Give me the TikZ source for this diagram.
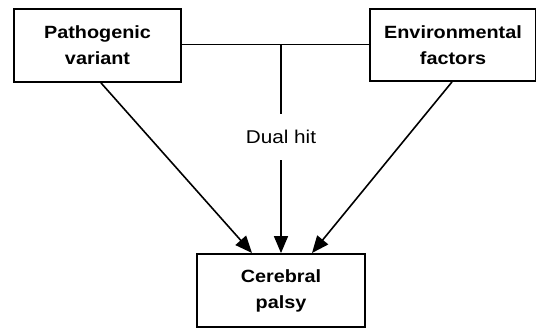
\documentclass[tikz,border=0pt]{standalone}
\usepackage{fontspec}
\setmainfont{Liberation Sans}[FakeStretch=1.12]
\usetikzlibrary{arrows.meta}
\begin{document}
\begin{tikzpicture}[x=1pt,y=-1pt,
  box/.style={draw,line width=1.8pt,align=center,font=\fontsize{17.7}{26}\selectfont\bfseries,inner sep=0pt},
  conn/.style={line width=1.6pt},
  arr/.style={conn,-{Triangle[length=17pt,width=14pt]}}]
\useasboundingbox (0,0) rectangle (536,329);
\fill[white] (0,0) rectangle (536,329);
\node[box,minimum width=167pt,minimum height=73pt] (pv) at (97.5,45.5) {Pathogenic\\variant};
\node[box,minimum width=166pt,minimum height=72pt] (ef) at (453,45) {Environmental\\factors};
\node[box,minimum width=168pt,minimum height=73pt] (cp) at (281,290.5) {Cerebral\\palsy};
\node[font=\fontsize{18.5}{22}\selectfont,inner sep=0pt] (dh) at (281,137) {Dual hit};
\coordinate (jn) at (281,44.5);
\coordinate (dt) at (281,114);
\coordinate (db) at (281,160);
\draw[conn] (pv.east |- jn) -- (ef.west |- jn);
\draw[conn] (jn) -- (dt);
\draw[arr] (db) -- (cp.north);
\coordinate (ls) at (101,82);
\coordinate (le) at (252,253);
\coordinate (rs) at (452,81);
\coordinate (re) at (312,253);
\draw[arr] (pv.south -| ls) -- (le);
\draw[arr] (ef.south -| rs) -- (re);
\end{tikzpicture}
\end{document}
